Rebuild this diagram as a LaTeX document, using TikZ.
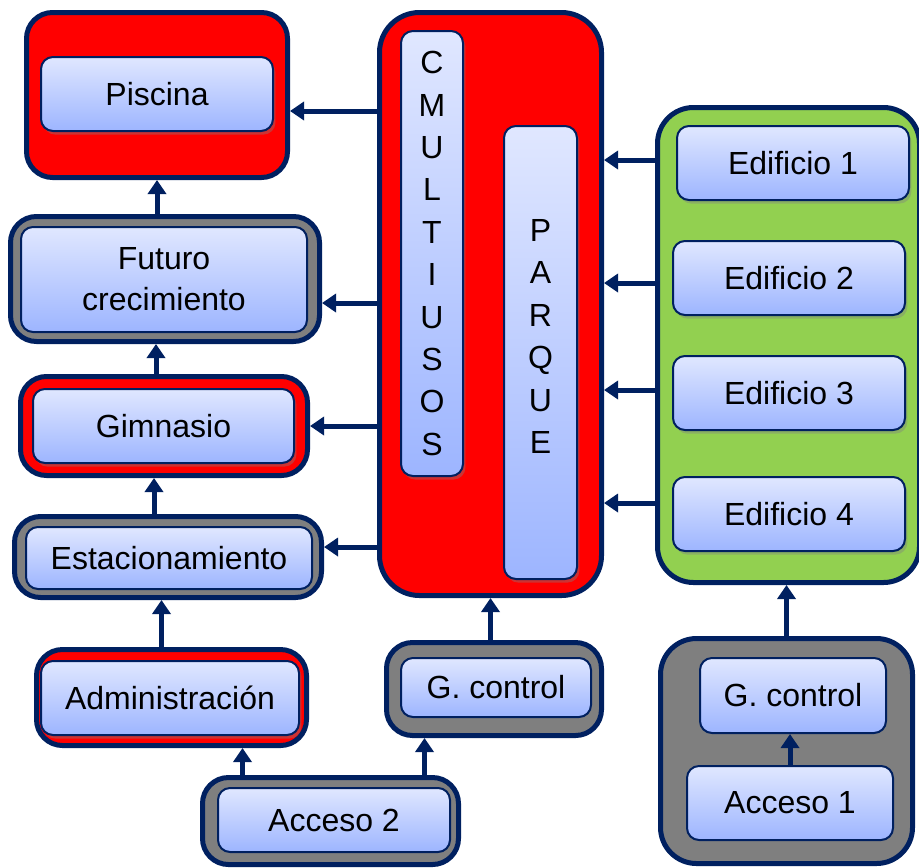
\documentclass[tikz,border=0pt]{standalone}
\usepackage{fontspec}
\setmainfont{Liberation Sans}
\usetikzlibrary{arrows.meta,shadows}

\definecolor{navy}{HTML}{002060}
\definecolor{areatop}{HTML}{E0E7FF}
\definecolor{areabot}{HTML}{9DB5FF}
\definecolor{zonegray}{HTML}{7F7F7F}
\definecolor{zonegreen}{HTML}{92D050}

\tikzset{
  sz/.style 2 args={minimum width=#1*0.5pt, minimum height=#2*0.5pt},
  zone/.style={draw=navy, line width=2.5pt, rounded corners=13pt, inner sep=0pt},
  zone red/.style={zone, fill=red},
  zone gray/.style={zone, fill=zonegray},
  zone green/.style={zone, fill=zonegreen, rounded corners=18pt},
  area/.style={draw=navy, line width=1pt, rounded corners=6pt, inner sep=0pt,
    top color=areatop, bottom color=areabot, align=center,
    drop shadow={shadow xshift=1.2pt, shadow yshift=-1.8pt, opacity=0.4},
    font=\fontsize{16}{20.5}\selectfont},
  tall text/.style={align=center, inner sep=0pt, font=\fontsize{16}{21.2}\selectfont},
  link/.style={navy, line width=2.5pt, -{Triangle[length=7pt,width=9pt]}}
}

\begin{document}
\begin{tikzpicture}[x=0.5pt, y=-0.5pt]
    \useasboundingbox (0,0) rectangle (919,867);

    % ---------------------------------------------------------------
    % zonas
    % ---------------------------------------------------------------
    \node [zone red, sz={261}{165}] (piscinaBg) at (157,95) {};
    \node [zone gray, sz={309}{125}] (futuroBg) at (165,279) {};
    \node [zone red, sz={287}{99}] (gimnasioBg) at (164,426) {};
    \node [zone gray, sz={307}{81}] (estacBg) at (168,557) {};
    \node [zone red, sz={270}{96}] (adminBg) at (171.5,697.5) {};
    \node [zone gray, sz={256}{87}] (acceso2Bg) at (330.5,821) {};
    \node [zone gray, sz={215}{93}] (controlBg) at (494,689) {};
    \node [zone red, rounded corners=20pt, sz={222}{583}] (multiBg) at (490.5,304) {};
    \node [zone green, sz={262}{475}] (edifBg) at (788.5,345) {};
    \node [zone gray, rounded corners=18pt, sz={252}{225}] (acceso1Bg) at (786.5,751) {};

    % ---------------------------------------------------------------
    % areas
    % ---------------------------------------------------------------
    \node [area, sz={232}{74}] (piscina) at (157,94) {Piscina};
    \node [area, sz={286}{105}] (futuro) at (164,279.5) {Futuro\\crecimiento};
    \node [area, sz={261}{74}] (gimnasio) at (163.5,426) {Gimnasio};
    \node [area, sz={286}{62}] (estac) at (169,558) {Estacionamiento};
    \node [area, sz={258}{74}] (admin) at (170,698) {Administración};
    \node [area, sz={232}{64}] (acceso2) at (334,820) {Acceso 2};
    \node [area, sz={190}{59}] (control) at (496,687.5) {G. control};

    \node [area, sz={62}{445}] (multi) at (432,253.5) {};
    \node [tall text] (multiTxt) at (multi.center) {C\\M\\U\\L\\T\\I\\U\\S\\O\\S};
    \node [area, sz={73}{453}] (parque) at (540.5,352.5) {};
    \node [tall text] (parqueTxt) at ([yshift=8pt]parque.center) {P\\A\\R\\Q\\U\\E};

    \foreach \n/\x/\y in {1/793/163, 2/789/278, 3/789/393, 4/789/514}
    \node [area, sz={232}{74}] (edif-\n) at (\x,\y) {Edificio \n};

    \node [area, sz={186}{75}] (controlR) at (793,695.5) {G. control};
    \node [area, sz={206}{74}] (acceso1) at (790,803) {Acceso 1};

    % ---------------------------------------------------------------
    % conexiones
    % ---------------------------------------------------------------
    \draw [link] ([yshift=-8pt]multiBg.west |- piscinaBg.east) -- ([yshift=-8pt]piscinaBg.east);
    \draw [link] ([yshift=-12pt]multiBg.west |- futuroBg.east) -- ([yshift=-12pt]futuroBg.east);
    \draw [link] (multiBg.west |- gimnasioBg.east) -- (gimnasioBg.east);
    \draw [link] ([yshift=5pt]multiBg.west |- estacBg.east) -- ([yshift=5pt]estacBg.east);

    \draw [link] (piscinaBg.south |- futuroBg.north) -- (piscinaBg.south);
    \draw [link] ([xshift=-4pt]gimnasioBg.north) -- ([xshift=-4pt]gimnasioBg.north |- futuroBg.south);
    \draw [link] ([xshift=-7pt]estacBg.north) -- ([xshift=-7pt]estacBg.north |- gimnasioBg.south);
    \draw [link] ([xshift=-5pt]adminBg.north) -- ([xshift=-5pt]adminBg.north |- estacBg.south);
    \draw [link] ([xshift=-44pt]acceso2Bg.north) -- ([xshift=-44pt]acceso2Bg.north |- adminBg.south);
    \draw [link] ([xshift=47pt]acceso2Bg.north) -- ([xshift=47pt]acceso2Bg.north |- controlBg.south);
    \draw [link] (multiBg.south |- controlBg.north) -- (multiBg.south);

    \foreach \n/\s in {1/1.5pt, 2/-2.5pt, 3/1.5pt, 4/5.5pt}
    \draw [link] ([yshift=\s]edifBg.west |- edif-\n.west) -- ([yshift=\s]multiBg.east |- edif-\n.west);

    \draw [link] (acceso1Bg.north) -- (acceso1Bg.north |- edifBg.south);
    \draw [link] (acceso1.north) -- (acceso1.north |- controlR.south);

\end{tikzpicture}
\end{document}
